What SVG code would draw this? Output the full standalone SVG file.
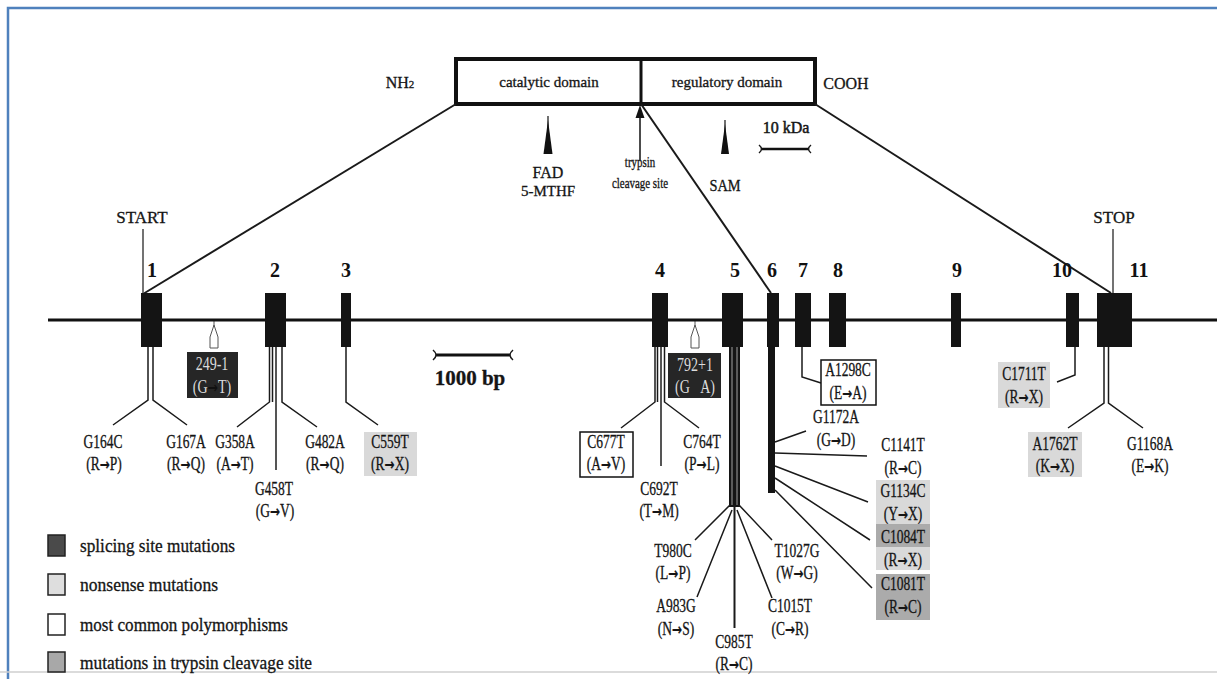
<svg xmlns="http://www.w3.org/2000/svg" width="1217" height="679" viewBox="0 0 1217 679">
<style>
.lb{font-family:"Liberation Serif",serif;font-size:18px;fill:#151515;stroke:#151515;stroke-width:0.3;text-anchor:middle}
.lw{font-family:"Liberation Serif",serif;font-size:18px;fill:#dcdcdc;text-anchor:middle}
.ar{font-family:"DejaVu Sans",sans-serif;font-size:16px;font-weight:bold}
.en{font-family:"Liberation Serif",serif;font-size:20px;font-weight:bold;fill:#111;text-anchor:middle}
.tx{font-family:"Liberation Serif",serif;fill:#151515;stroke:#151515;stroke-width:0.3;text-anchor:middle}
.lg{font-family:"Liberation Serif",serif;font-size:18px;fill:#151515;stroke:#151515;stroke-width:0.3}
.ln{stroke:#1a1a1a;stroke-width:1.5;fill:none}
.ln2{stroke:#1a1a1a;stroke-width:2;fill:none}
.ex{fill:#141414}
.g1{fill:#d9d9d9}
.g2{fill:#ababab}
.wb{fill:#fff;stroke:#111;stroke-width:1.5}
.dk{fill:#262626}
.mk{fill:#fff;stroke:#555;stroke-width:1}
.sq{stroke:#222;stroke-width:1.5}
</style>

<g id="frame">
<path d="M8,679 L8,8 L1217,8" fill="none" stroke="#4f81bd" stroke-width="2.5"/>
<line x1="0" y1="672" x2="1217" y2="672" stroke="#cfcfcf" stroke-width="1.5"/>
</g>

<g id="protein">
<rect x="456" y="59" width="359" height="45" fill="#fff" stroke="#111" stroke-width="4"/>
<line x1="641" y1="59" x2="641" y2="104" stroke="#111" stroke-width="3"/>
<text class="tx" x="400" y="88" font-size="16">NH<tspan font-size="11">2</tspan></text>
<text class="tx" x="549" y="87" font-size="15">catalytic domain</text>
<text class="tx" x="727" y="87" font-size="15">regulatory domain</text>
<text class="tx" x="846" y="89" font-size="16">COOH</text>
</g>

<g id="fad">
<line x1="548" y1="116" x2="548" y2="130" stroke="#111" stroke-width="1.2"/>
<polygon points="548,120 552.5,154 543.5,154" fill="#111"/>
<text class="tx" x="548" y="178" font-size="16">FAD</text>
<text class="tx" x="548" y="196" font-size="15">5-MTHF</text>
</g>

<g id="trypsin">
<line x1="640" y1="160" x2="640" y2="114" stroke="#111" stroke-width="1.5"/>
<polygon points="640,105 635.5,118 644.5,118" fill="#111"/>
<text class="tx" font-size="14" transform="translate(640,167) scale(0.78,1)">trypsin</text>
<text class="tx" font-size="14" transform="translate(640,188) scale(0.78,1)">cleavage site</text>
</g>

<g id="sam">
<line x1="725" y1="120" x2="725" y2="132" stroke="#111" stroke-width="1.2"/>
<polygon points="725,124 729,154 721,154" fill="#111"/>
<text class="tx" font-size="16" transform="translate(725,191) scale(0.9,1)">SAM</text>
</g>

<g id="scale-kda">
<text class="tx" x="786" y="133" font-size="16" style="stroke-width:0.5">10 kDa</text>
<line x1="762" y1="149" x2="808" y2="149" stroke="#111" stroke-width="2.5"/>
<path d="M759,145 Q764,149 759,153 M811,145 Q806,149 811,153" class="ln"/>
</g>

<g id="connectors">
<line x1="456" y1="104" x2="143" y2="294" class="ln2"/>
<line x1="641" y1="104" x2="771" y2="293" class="ln2"/>
<line x1="815" y1="104" x2="1111" y2="293" class="ln2"/>
<line x1="143" y1="229" x2="143" y2="294" stroke="#444" stroke-width="1.5"/>
<line x1="1113" y1="229" x2="1113" y2="293" stroke="#444" stroke-width="1.5"/>
<path class="ln" d="M148,347 V400 L113,425 M153,347 V400 L187,425"/>
<path class="ln" d="M269.5,347 V402 L237,427 M272.5,347 V402 M282,347 V402 L317,427"/>
<line x1="276" y1="347" x2="276" y2="470" stroke="#555" stroke-width="2"/>
<path class="ln" d="M346,347 V402 L378,425"/>
<path class="ln" d="M655,347 V402 L621,428 M657.5,347 V402 M664.5,347 V402 L699,428"/>
<line x1="661" y1="347" x2="661" y2="466" stroke="#555" stroke-width="2"/>
<rect x="729" y="347" width="11" height="160" fill="#141414"/>
<line x1="732" y1="347" x2="732" y2="505" stroke="#fff" stroke-width="0.6"/>
<line x1="737" y1="347" x2="737" y2="505" stroke="#fff" stroke-width="0.6"/>
<path class="ln" d="M730,505 L695,540 M732,510 L697,597 M737,510 L772,598 M739,505 L772,540"/>
<line x1="734.5" y1="505" x2="734.5" y2="628" stroke="#1a1a1a" stroke-width="2"/>
<rect x="768" y="347" width="7" height="146" fill="#141414"/>
<path class="ln" d="M775,442 L806,431 M775,453 L867,456 M775,466 L868,502 M775,478 L870,540 M775,490 L872,588"/>
<path class="ln" d="M802,347 V377 L821,383"/>
<path class="ln" d="M1075,347 V375 L1057,382"/>
<path class="ln" d="M1104,347 V403 L1068,428 M1108.5,347 V403 L1143,428"/>
<line x1="214" y1="321" x2="214" y2="327" stroke="#555" stroke-width="1"/>
<polygon class="mk" points="214,325 218,337 218,348 210,348 210,337"/>
<line x1="695" y1="321" x2="695" y2="327" stroke="#555" stroke-width="1"/>
<polygon class="mk" points="695,325 699,337 699,348 691,348 691,337"/>
</g>

<g id="gene">
<line x1="48" y1="320" x2="1217" y2="320" stroke="#111" stroke-width="3"/>
<rect class="ex" x="141" y="293" width="21" height="54"/>
<rect class="ex" x="265" y="293" width="21" height="54"/>
<rect class="ex" x="341" y="293" width="10" height="54"/>
<rect class="ex" x="652" y="293" width="16" height="54"/>
<rect class="ex" x="722" y="293" width="21" height="54"/>
<rect class="ex" x="767" y="293" width="12" height="54"/>
<rect class="ex" x="795" y="293" width="16" height="54"/>
<rect class="ex" x="829" y="293" width="17" height="54"/>
<rect class="ex" x="951" y="293" width="10" height="54"/>
<rect class="ex" x="1066" y="293" width="13" height="54"/>
<rect class="ex" x="1097" y="293" width="35" height="54"/>
</g>

<g id="exon-numbers">
<text class="en" x="152" y="277">1</text>
<text class="en" x="275" y="277">2</text>
<text class="en" x="346" y="277">3</text>
<text class="en" x="660" y="277">4</text>
<text class="en" x="735" y="277">5</text>
<text class="en" x="772" y="277">6</text>
<text class="en" x="803" y="277">7</text>
<text class="en" x="838" y="277">8</text>
<text class="en" x="957" y="277">9</text>
<text class="en" x="1062" y="277">10</text>
<text class="en" x="1139" y="277">11</text>
</g>

<g id="start"><text class="tx" x="142" y="223" font-size="17">START</text></g>
<g id="stop"><text class="tx" x="1114" y="223" font-size="17">STOP</text></g>

<g id="scale-bp">
<line x1="436" y1="355" x2="510" y2="355" stroke="#111" stroke-width="3"/>
<path d="M433,350 Q439,355 433,360 M513,350 Q507,355 513,360" class="ln"/>
<text class="tx" x="470" y="385" font-size="21" font-weight="bold">1000 bp</text>
</g>

<g id="m-249-1">
<rect class="dk" x="187" y="352" width="51" height="46"/>
<text class="lw" transform="translate(212,370) scale(0.78,1)">249-1</text>
<text class="lw" transform="translate(212,393) scale(0.78,1)">(G<tspan class="ar" fill="#111">→</tspan>T)</text>
</g>
<g id="m-792-1">
<rect class="dk" x="668" y="353" width="53" height="45"/>
<text class="lw" transform="translate(695,371) scale(0.78,1)">792+1</text>
<text class="lw" transform="translate(695,393) scale(0.78,1)">(G<tspan class="ar" fill="#262626">→</tspan>A)</text>
</g>

<g id="m-G164C"><text class="lb" transform="translate(103,448) scale(0.75,1)">G164C</text><text class="lb" transform="translate(104,470) scale(0.75,1)">(R<tspan class="ar">→</tspan>P)</text></g>
<g id="m-G167A"><text class="lb" transform="translate(186,448) scale(0.75,1)">G167A</text><text class="lb" transform="translate(186,470) scale(0.75,1)">(R<tspan class="ar">→</tspan>Q)</text></g>
<g id="m-G358A"><text class="lb" transform="translate(235,448) scale(0.75,1)">G358A</text><text class="lb" transform="translate(235,470) scale(0.75,1)">(A<tspan class="ar">→</tspan>T)</text></g>
<g id="m-G458T"><text class="lb" transform="translate(274,495) scale(0.75,1)">G458T</text><text class="lb" transform="translate(275,517) scale(0.75,1)">(G<tspan class="ar">→</tspan>V)</text></g>
<g id="m-G482A"><text class="lb" transform="translate(325,448) scale(0.75,1)">G482A</text><text class="lb" transform="translate(325,470) scale(0.75,1)">(R<tspan class="ar">→</tspan>Q)</text></g>
<g id="m-C559T"><rect class="g1" x="364" y="432" width="53" height="44"/><text class="lb" transform="translate(390,448) scale(0.75,1)">C559T</text><text class="lb" transform="translate(390,470) scale(0.75,1)">(R<tspan class="ar">→</tspan>X)</text></g>

<g id="m-C677T"><rect class="wb" x="580" y="432" width="53" height="45"/><text class="lb" transform="translate(606,448) scale(0.75,1)">C677T</text><text class="lb" transform="translate(606,470) scale(0.75,1)">(A<tspan class="ar">→</tspan>V)</text></g>
<g id="m-C692T"><text class="lb" transform="translate(659,495) scale(0.75,1)">C692T</text><text class="lb" transform="translate(659,517) scale(0.75,1)">(T<tspan class="ar">→</tspan>M)</text></g>
<g id="m-C764T"><text class="lb" transform="translate(702,448) scale(0.75,1)">C764T</text><text class="lb" transform="translate(702,470) scale(0.75,1)">(P<tspan class="ar">→</tspan>L)</text></g>

<g id="m-T980C"><text class="lb" transform="translate(673,557) scale(0.75,1)">T980C</text><text class="lb" transform="translate(673,579) scale(0.75,1)">(L<tspan class="ar">→</tspan>P)</text></g>
<g id="m-A983G"><text class="lb" transform="translate(676,612) scale(0.75,1)">A983G</text><text class="lb" transform="translate(676,635) scale(0.75,1)">(N<tspan class="ar">→</tspan>S)</text></g>
<g id="m-C985T"><text class="lb" transform="translate(734,648) scale(0.75,1)">C985T</text><text class="lb" transform="translate(734,670) scale(0.75,1)">(R<tspan class="ar">→</tspan>C)</text></g>
<g id="m-C1015T"><text class="lb" transform="translate(790,612) scale(0.75,1)">C1015T</text><text class="lb" transform="translate(790,635) scale(0.75,1)">(C<tspan class="ar">→</tspan>R)</text></g>
<g id="m-T1027G"><text class="lb" transform="translate(797,557) scale(0.75,1)">T1027G</text><text class="lb" transform="translate(797,579) scale(0.75,1)">(W<tspan class="ar">→</tspan>G)</text></g>

<g id="m-A1298C"><rect class="wb" x="821" y="360" width="55" height="45"/><text class="lb" transform="translate(848,376) scale(0.75,1)">A1298C</text><text class="lb" transform="translate(848,399) scale(0.75,1)">(E<tspan class="ar">→</tspan>A)</text></g>
<g id="m-G1172A"><text class="lb" transform="translate(836,423) scale(0.75,1)">G1172A</text><text class="lb" transform="translate(836,446) scale(0.75,1)">(G<tspan class="ar">→</tspan>D)</text></g>
<g id="m-C1141T"><text class="lb" transform="translate(903,451) scale(0.75,1)">C1141T</text><text class="lb" transform="translate(903,474) scale(0.75,1)">(R<tspan class="ar">→</tspan>C)</text></g>
<g id="m-G1134C"><rect class="g1" x="876" y="480" width="54" height="44"/><text class="lb" transform="translate(903,497) scale(0.75,1)">G1134C</text><text class="lb" transform="translate(903,520) scale(0.75,1)">(Y<tspan class="ar">→</tspan>X)</text></g>
<g id="m-C1084T"><rect class="g2" x="876" y="524" width="54" height="23"/><rect class="g1" x="876" y="547" width="54" height="23"/><text class="lb" transform="translate(903,543) scale(0.75,1)">C1084T</text><text class="lb" transform="translate(903,566) scale(0.75,1)">(R<tspan class="ar">→</tspan>X)</text></g>
<g id="m-C1081T"><rect class="g2" x="876" y="574" width="54" height="46"/><text class="lb" transform="translate(903,590) scale(0.75,1)">C1081T</text><text class="lb" transform="translate(903,613) scale(0.75,1)">(R<tspan class="ar">→</tspan>C)</text></g>

<g id="m-C1711T"><rect class="g1" x="998" y="362" width="52" height="46"/><text class="lb" transform="translate(1024,380) scale(0.75,1)">C1711T</text><text class="lb" transform="translate(1024,403) scale(0.75,1)">(R<tspan class="ar">→</tspan>X)</text></g>
<g id="m-A1762T"><rect class="g1" x="1028" y="432" width="54" height="45"/><text class="lb" transform="translate(1055,450) scale(0.75,1)">A1762T</text><text class="lb" transform="translate(1055,472) scale(0.75,1)">(K<tspan class="ar">→</tspan>X)</text></g>
<g id="m-G1168A"><text class="lb" transform="translate(1150,450) scale(0.75,1)">G1168A</text><text class="lb" transform="translate(1150,472) scale(0.75,1)">(E<tspan class="ar">→</tspan>K)</text></g>

<g id="legend">
<rect class="sq" x="48" y="535" width="17" height="21" fill="#4a4a4a"/>
<text class="lg" x="80" y="552" textLength="155" lengthAdjust="spacingAndGlyphs">splicing site mutations</text>
<rect class="sq" x="48" y="574" width="17" height="21" fill="#dedede"/>
<text class="lg" x="80" y="591" textLength="138" lengthAdjust="spacingAndGlyphs">nonsense mutations</text>
<rect class="sq" x="48" y="614" width="17" height="21" fill="#ffffff"/>
<text class="lg" x="80" y="631" textLength="208" lengthAdjust="spacingAndGlyphs">most common polymorphisms</text>
<rect class="sq" x="48" y="652" width="17" height="20" fill="#a8a8a8"/>
<text class="lg" x="80" y="669" textLength="232" lengthAdjust="spacingAndGlyphs">mutations in trypsin cleavage site</text>
</g>
</svg>
